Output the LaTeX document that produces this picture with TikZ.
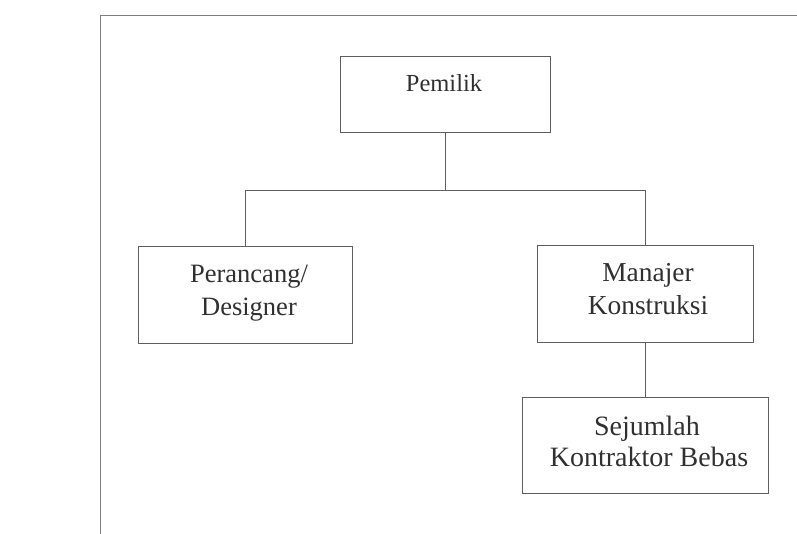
\documentclass[tikz,border=0pt]{standalone}
\usepackage{fontspec}
\setmainfont{Liberation Serif}
\definecolor{linec}{HTML}{5E5E5E}
\definecolor{txtc}{HTML}{303030}
\begin{document}
\begin{tikzpicture}[x=1pt,y=-1pt,
  box/.style={draw=linec, line width=0.8pt, inner sep=0pt},
  conn/.style={draw=linec, line width=0.8pt},
  frameline/.style={draw=linec!80, line width=0.7pt},
  lbl/.style={anchor=base, inner sep=0pt, text=txtc, font=\fontsize{#1}{33}\selectfont},
  lbl/.default=26.5]
\useasboundingbox (0,0) rectangle (797,534);
% page frame
\coordinate (fb) at (100,534);
\coordinate (fc) at (100,15);
\coordinate (fr) at (797,15);
\draw[frameline] (fb) -- (fc) -- (fr);
% boxes
\node[box, minimum width=210pt, minimum height=76pt] (pemilik) at (445,94) {};
\node[box, minimum width=214pt, minimum height=97pt] (perancang) at (245,294.5) {};
\node[box, minimum width=216pt, minimum height=97pt] (manajer) at (645,293.5) {};
\node[box, minimum width=246pt, minimum height=96pt] (kontraktor) at (645,445) {};
% texts
\node[lbl=24.5] (tpemilik) at (444,92) {Pemilik};
\node[lbl] (tperancang1) at (249,283) {Perancang/};
\node[lbl] (tperancang2) at (249,316) {Designer};
\node[lbl=27.4] (tmanajer1) at (648,282) {Manajer};
\node[lbl=27.4] (tmanajer2) at (648,314) {Konstruksi};
\node[lbl=28] (tkontraktor1) at (647,435) {Sejumlah};
\node[lbl=28] (tkontraktor2) at (649,466) {Kontraktor Bebas};
% connectors
\draw[conn] (pemilik.south) -- ++(0,58.5) coordinate (jn);
\draw[conn] (perancang.north) -- (perancang.north |- jn) -- (manajer.north |- jn) -- (manajer.north);
\draw[conn] (manajer.south) -- (kontraktor.north);
\end{tikzpicture}
\end{document}
